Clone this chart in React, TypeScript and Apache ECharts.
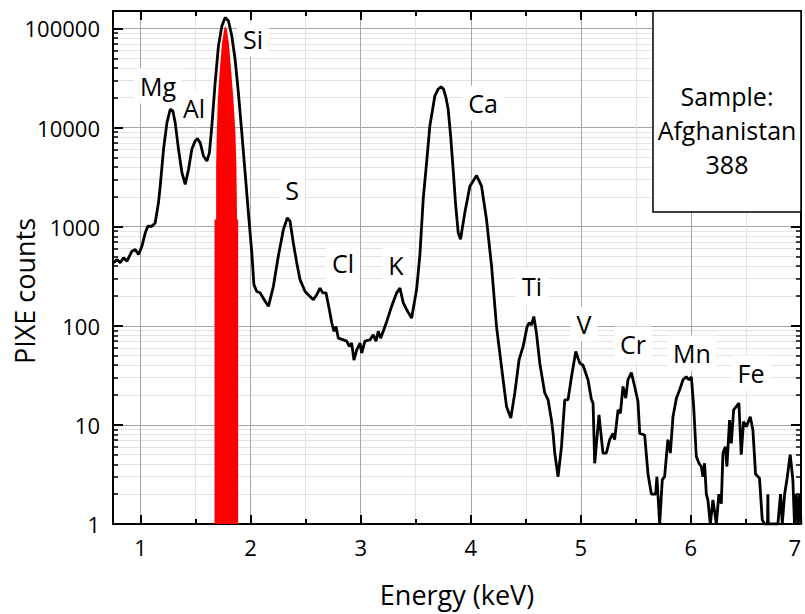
import React, { useEffect, useRef } from "react";
import * as echarts from "echarts";

// ---------- data ----------
// PIXE spectrum: [energy keV, counts]
const spectrum: [number, number][] = [
  [0.758,432],[0.786,466],[0.816,432],[0.846,485],[0.877,448],[0.922,565],[0.952,588],[0.982,523],[1.013,635],[1.043,867],
  [1.067,1010],[1.103,1010],[1.133,1090],[1.163,1740],[1.179,2570],[1.209,6030],[1.240,11200],[1.270,15300],[1.294,14700],[1.315,11200],
  [1.345,6030],[1.376,3510],[1.406,2670],[1.436,3780],[1.466,6030],[1.496,7310],[1.517,7730],[1.542,7040],[1.572,5160],[1.603,4590],
  [1.626,5580],[1.648,10400],[1.678,28400],[1.708,66700],[1.739,106000],[1.769,129000],[1.799,119000],[1.829,84300],[1.859,48900],[1.889,22500],
  [1.920,8890],[1.950,3510],[1.980,1380],[2.011,545],[2.030,260],[2.056,222],[2.086,215],[2.132,177],[2.162,157],[2.207,250],
  [2.252,505],[2.298,935],[2.334,1230],[2.358,1140],[2.388,686],[2.419,432],[2.449,292],[2.495,222],[2.540,197],[2.570,183],
  [2.601,206],[2.631,240],[2.655,215],[2.685,215],[2.715,146],[2.737,107],[2.758,88],[2.776,98],[2.797,75],[2.842,72],
  [2.873,70],[2.897,62],[2.918,67],[2.939,45],[2.964,57],[2.994,67],[3.009,53],[3.039,70],[3.084,72],[3.114,81],
  [3.139,70],[3.160,88],[3.181,75],[3.205,88],[3.236,110],[3.281,157],[3.327,215],[3.357,240],[3.387,170],[3.417,146],
  [3.463,120],[3.508,232],[3.538,520],[3.568,1900],[3.599,4450],[3.628,10300],[3.674,20900],[3.705,24500],[3.730,25800],[3.752,24500],
  [3.775,20000],[3.795,15300],[3.818,8000],[3.840,3780],[3.862,1700],[3.886,867],[3.907,745],[3.946,1380],[3.992,2560],[4.053,3280],
  [4.098,2560],[4.143,1183],[4.189,400],[4.234,98],[4.264,53],[4.294,28.5],[4.325,15.3],[4.364,11.7],[4.400,21],[4.439,45.5],
  [4.476,62],[4.512,98],[4.530,107],[4.552,102],[4.573,124],[4.597,84],[4.627,42],[4.672,21],[4.702,18],[4.733,11.2],
  [4.748,8.2],[4.763,5.2],[4.793,3.0],[4.824,6.0],[4.854,17.9],[4.884,18],[4.915,30.6],[4.954,55],[4.990,42],[5.020,40],
  [5.065,28.5],[5.096,18],[5.111,16.6],[5.126,4.1],[5.165,12.6],[5.201,5.2],[5.232,5.2],[5.262,7.1],[5.292,8.2],[5.307,7.1],
  [5.338,14.2],[5.359,13.1],[5.383,24.4],[5.408,18.6],[5.428,28.5],[5.459,33.8],[5.489,24.4],[5.519,17.2],[5.535,8.2],[5.580,7.9],
  [5.610,3.2],[5.641,2.0],[5.680,2.0],[5.691,3.0],[5.716,1],[5.740,2.8],[5.761,3.0],[5.777,4.8],[5.791,7.1],[5.813,5.2],
  [5.837,12.1],[5.868,18.6],[5.898,22.6],[5.928,28.5],[5.958,30.6],[5.982,28.5],[6.004,30.6],[6.025,15.3],[6.049,4.8],[6.073,4.1],
  [6.094,3.8],[6.109,3.0],[6.124,4.1],[6.140,2.0],[6.154,1.75],[6.176,1],[6.200,1.75],[6.231,1],[6.254,2.0],[6.276,1.6],
  [6.291,5.2],[6.313,6.0],[6.327,3.8],[6.351,11.2],[6.367,6.5],[6.388,14.2],[6.412,15.3],[6.436,16.6],[6.457,5.0],[6.478,10.8],
  [6.503,9.6],[6.539,12.1],[6.563,8.9],[6.587,3.2],[6.623,2.9],[6.648,1.1],[6.669,1],[6.696,1],[6.699,2.0],[6.702,1],
  [6.721,1],[6.790,1],[6.814,2],[6.830,1],[6.851,2],[6.872,2.8],[6.902,5.0],[6.926,2.8],[6.941,1],[6.956,2],
  [6.971,1],[6.986,2],[7.0,1],
];

// Highlighted Si region (red fill)
const siRegion: [number, number][] = [
  [1.672,1],[1.672,1183],[1.687,1183],[1.687,4090],[1.693,8890],[1.702,19300],[1.723,41900],[1.741,72100],[1.760,98400],
  [1.769,106000],[1.784,98400],[1.802,72100],[1.820,41900],[1.844,19300],[1.862,8890],[1.871,4090],[1.877,1183],
  [1.887,1183],[1.887,1],
];

const elementLabels = ["Mg", "Al", "Si", "S", "Cl", "K", "Ca", "Ti", "V", "Cr", "Mn", "Fe"];
const sampleText = ["Sample:", "Afghanistan", "388"];
const xTitle = "Energy (keV)";
const yTitle = "PIXE counts";
const yTickValues = [1, 10, 100, 1000, 10000, 100000];

// ---------- layout (pixels) ----------
const labelPos: Record<string, [number, number]> = {
  Mg: [158, 86], Al: [194, 108], Si: [253, 39], S: [292, 190], Cl: [343, 263], K: [396, 265],
  Ca: [483, 103], Ti: [532, 286], V: [584, 324], Cr: [633, 344], Mn: [692, 353], Fe: [751, 373],
};

const FONT = "'Open Sans', 'Noto Sans', sans-serif";

export default function App() {
  const ref = useRef<HTMLDivElement>(null);
  useEffect(() => {
    if (!ref.current) return;
    document.body.style.margin = "0";
    document.body.style.overflow = "hidden";
    document.documentElement.style.overflow = "hidden";
    const chart = echarts.init(ref.current, undefined, { renderer: "svg", width: 805, height: 614 });
    const axisLine = { show: true, lineStyle: { color: "#000", width: 2 } };
    const tick = { show: true, inside: true, length: 9, lineStyle: { color: "#000", width: 2 } };
    const xMinor = { show: true, splitNumber: 2, length: 5, lineStyle: { color: "#000", width: 2 } };
    const yMinor = { show: true, splitNumber: 9, length: 5, lineStyle: { color: "#000", width: 1.5 } };
    const graphics: any[] = [];
    elementLabels.forEach((name) => {
      const p = labelPos[name];
      graphics.push({
        type: "text", x: p[0], y: p[1], z: 1,
        style: {
          text: name, fontSize: 25, fontFamily: FONT, fill: "#000",
          align: "center", verticalAlign: "middle",
          backgroundColor: "#fff", padding: [5, 6],
        },
      });
    });
    graphics.push({
      type: "rect", z: 100,
      shape: { x: 653, y: 11, width: 148, height: 201 },
      style: { fill: "#fff", stroke: "#000", lineWidth: 1.5 },
    });
    sampleText.forEach((t, i) => {
      graphics.push({
        type: "text", x: 727, y: 96 + i * 34, z: 101,
        style: { text: t, fontSize: 25, fontFamily: FONT, fill: "#000", align: "center", verticalAlign: "middle" },
      });
    });
    graphics.push({
      type: "text", x: 457, y: 594, z: 100,
      style: { text: xTitle, fontSize: 27, fontFamily: FONT, fill: "#000", align: "center", verticalAlign: "middle" },
    });
    graphics.push({
      type: "text", x: 24, y: 291, rotation: Math.PI / 2, z: 100,
      style: { text: yTitle, fontSize: 27, fontFamily: FONT, fill: "#000", align: "center", verticalAlign: "middle" },
    });

    const option: any = {
      animation: false,
      grid: { left: 113, right: 4, top: 11, bottom: 90, containLabel: false, outerBoundsMode: "none" },
      xAxis: [
        {
          type: "value", min: 0.75, max: 7, splitNumber: 6, position: "bottom",
          axisLine, axisTick: tick, minorTick: xMinor,
          splitLine: { show: true, lineStyle: { color: "#a6a6a6", width: 1 } },
          minorSplitLine: { show: true, lineStyle: { color: "#e2e2e2", width: 1 } },
          axisLabel: {
            fontSize: 22, fontFamily: FONT, color: "#000", margin: 12, alignMaxLabel: "right",
            formatter: (v: number) => (Math.abs(v - Math.round(v)) < 1e-6 ? String(Math.round(v)) : ""),
          },
        },
        {
          type: "value", min: 0.75, max: 7, splitNumber: 6, position: "top",
          axisLine, axisTick: tick, minorTick: xMinor,
          splitLine: { show: false }, axisLabel: { show: false },
        },
      ],
      yAxis: [
        {
          type: "log", logBase: 10, min: 1, max: 150000, position: "left",
          axisLine, axisTick: { ...tick, length: 10 }, minorTick: yMinor,
          splitLine: { show: true, lineStyle: { color: "#a6a6a6", width: 1 } },
          minorSplitLine: { show: true, lineStyle: { color: "#e2e2e2", width: 1 } },
          axisLabel: {
            fontSize: 22, fontFamily: FONT, color: "#000", margin: 13,
            formatter: (v: number) => {
              const hit = yTickValues.find((t) => Math.abs(v - t) / t < 1e-6);
              return hit !== undefined ? String(hit) : "";
            },
          },
        },
        {
          type: "log", logBase: 10, min: 1, max: 150000, position: "right",
          axisLine, axisTick: { ...tick, length: 10 }, minorTick: yMinor,
          splitLine: { show: false }, axisLabel: { show: false },
        },
      ],
      graphic: graphics,
      series: [
        {
          type: "line", data: siRegion, xAxisIndex: 0, yAxisIndex: 0,
          symbol: "none", silent: true, smooth: false,
          lineStyle: { width: 0, color: "#ff0000" },
          areaStyle: { color: "#ff0000", opacity: 1, origin: "start" },
          z: 3,
        },
        {
          type: "line", data: spectrum, xAxisIndex: 0, yAxisIndex: 0,
          symbol: "none", silent: true, smooth: false,
          lineStyle: { width: 2.8, color: "#000" },
          z: 4,
        },
      ],
    };
    chart.setOption(option);
    return () => chart.dispose();
  }, []);
  return <div ref={ref} style={{ position: "absolute", left: 0, top: 0, width: 805, height: 614 }} />;
}
